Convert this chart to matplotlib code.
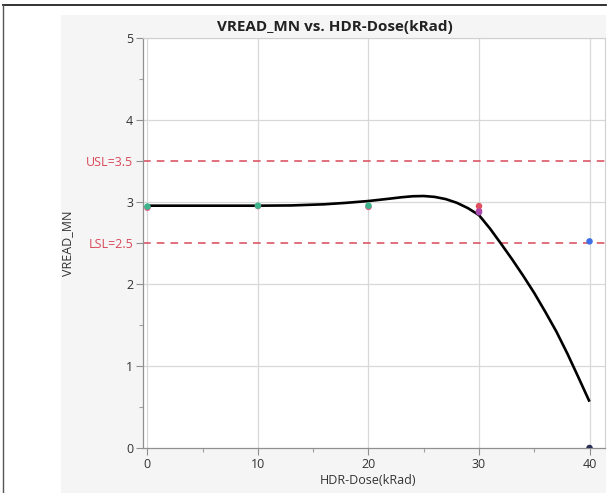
import matplotlib
matplotlib.use("Agg")
import matplotlib.pyplot as plt
from matplotlib.patches import Rectangle
from matplotlib.lines import Line2D

# ---- data ----
pt_x = [0, 0, 10, 10, 20, 20, 30, 30, 30, 40, 40]
pt_y = [2.93, 2.945, 2.95, 2.955, 2.94, 2.955, 2.95, 2.89, 2.875, 2.52, 0.0]
pt_c = ['#d8608a', '#3db48c', '#d8608a', '#3db48c', '#d8608a', '#3db48c',
        '#e0505e', '#d24a8a', '#a84ab0', '#3f6fe6', '#2a2f55']

curve_x = [0, 5, 10, 13, 16, 18, 20, 22, 23, 24, 25, 26, 27, 28, 29, 30, 31,
           32, 33, 34, 35, 36, 37, 38, 39, 40]
curve_y = [2.955, 2.955, 2.955, 2.958, 2.972, 2.99, 3.012, 3.042, 3.058,
           3.07, 3.073, 3.062, 3.035, 2.99, 2.925, 2.84, 2.675, 2.49, 2.30,
           2.10, 1.89, 1.66, 1.42, 1.15, 0.86, 0.565]

usl = 3.5
lsl = 2.5
major_y = [0, 1, 2, 3, 4, 5]
major_x = [0, 10, 20, 30, 40]

title = "VREAD_MN vs. HDR-Dose(kRad)"
xlabel = "HDR-Dose(kRad)"
ylabel = "VREAD_MN"

# ---- figure ----
W, H = 607, 493
fig = plt.figure(figsize=(W / 100, H / 100), dpi=100)
fig.patch.set_facecolor('white')
plt.rcParams['font.family'] = ['Open Sans', 'DejaVu Sans']

# gray panel
fig.patches.append(Rectangle((61 / W, 0), (606 - 61) / W, 1 - 15 / H,
                             transform=fig.transFigure, facecolor='#f5f5f5',
                             edgecolor='none', zorder=-10))
# black frame lines
fig.lines.append(Line2D([3 / W, 606 / W], [1 - 5 / H, 1 - 5 / H],
                        transform=fig.transFigure, color='#222222', lw=1.3))
fig.lines.append(Line2D([3 / W, 3 / W], [0, 1 - 5 / H],
                        transform=fig.transFigure, color='#555555', lw=1.0))

left, right, top, bottom = 143, 605, 38, 448
ax = fig.add_axes([left / W, 1 - bottom / H, (right - left) / W, (bottom - top) / H])
ax.set_zorder(1)
ax.set_facecolor('white')
ax.set_xlim(-0.4, 41.4)
ax.set_ylim(0, 5)

for s in ['top', 'right']:
    ax.spines[s].set_color('#d0d0d0')
    ax.spines[s].set_linewidth(0.8)
for s in ['left', 'bottom']:
    ax.spines[s].set_color('#909090')
    ax.spines[s].set_linewidth(0.9)

ax.set_xticks(major_x)
ax.set_xticks([5, 15, 25, 35], minor=True)
ax.set_yticks(major_y + [usl, lsl])
ax.set_yticklabels([str(v) for v in major_y] + ['USL=3.5', 'LSL=2.5'])
ax.set_yticks([0.5, 1.5, 4.5], minor=True)
ax.tick_params(axis='both', which='major', labelsize=9, colors='#333333',
               length=5, width=0.8, color='#909090', pad=2)
ax.tick_params(axis='both', which='minor', length=3, width=0.8, color='#a0a0a0')
for lbl in ax.get_yticklabels()[-2:]:
    lbl.set_color('#d9485a')

for gx in major_x:
    ax.axvline(gx, color='#d8d8d8', lw=0.9, zorder=0)
for gy in major_y[1:]:
    ax.axhline(gy, color='#d8d8d8', lw=0.9, zorder=0)

ax.axhline(usl, color='#d9485a', lw=1.1, ls=(0, (5, 4)), zorder=1)
ax.axhline(lsl, color='#d9485a', lw=1.1, ls=(0, (5, 4)), zorder=1)

ax.plot(curve_x, curve_y, color='black', lw=1.9, zorder=3,
        solid_capstyle='butt', solid_joinstyle='round')
ax.scatter(pt_x, pt_y, c=pt_c, s=22, zorder=4, edgecolors='none')

fig.text(335 / W, 1 - 27 / H, title, ha='center', va='center',
         fontsize=11, fontweight='bold', color='#222222')
ax.set_xlabel(xlabel, fontsize=9, color='#333333')
ax.set_ylabel(ylabel, fontsize=9, color='#333333')
ax.xaxis.set_label_coords((368 - left) / (right - left), -(480 - bottom) / (bottom - top))
ax.yaxis.set_label_coords(-(143 - 68) / (right - left), (bottom - 243) / (bottom - top))
ax.xaxis.label.set_va('center')
ax.yaxis.label.set_va('center')

fig.savefig('out.png', dpi=100, facecolor=fig.get_facecolor())
